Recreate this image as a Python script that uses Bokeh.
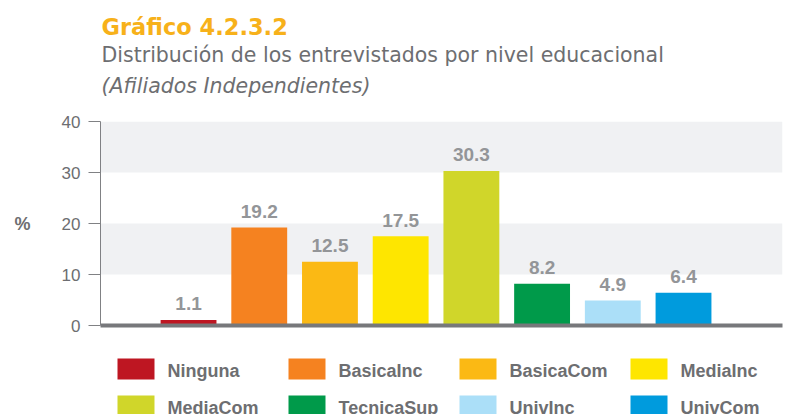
from bokeh.plotting import figure
from bokeh.layouts import column
from bokeh.models import ColumnDataSource, Range1d, FixedTicker, Label
from bokeh.core.properties import value
from bokeh.embed import file_html
from bokeh.resources import INLINE

categories = ["Ninguna", "BasicaInc", "BasicaCom", "MediaInc", "MediaCom", "TecnicaSup", "UnivInc", "UnivCom"]
values = [1.1, 19.2, 12.5, 17.5, 30.3, 8.2, 4.9, 6.4]
value_labels = ["1.1", "19.2", "12.5", "17.5", "30.3", "8.2", "4.9", "6.4"]
colors = ["#be1622", "#f58220", "#fbb914", "#fee600", "#d0d62a", "#009a4a", "#abdff8", "#009bdd"]
y_ticks = [0, 10, 20, 30, 40]
title = "Gráfico 4.2.3.2"
subtitle = "Distribución de los entrevistados por nivel educacional"
subtitle2 = "(Afiliados Independientes)"

GRAY_TXT = "#6d6e71"
VAL_TXT = "#939598"
AXIS_C = "#808184"

src = ColumnDataSource(dict(x=list(range(len(categories))), v=values, cat=categories,
                            color=colors, lab=value_labels))

# ---------------- title strip ----------------
p0 = figure(width=790, height=105, output_backend="svg", toolbar_location=None,
            x_range=Range1d(0, 682), y_range=Range1d(105, 0),
            min_border_left=100, min_border_right=8, min_border_top=0, min_border_bottom=0)
p0.axis.visible = False
p0.grid.visible = False
p0.outline_line_color = None
p0.add_layout(Label(x=1, y=26, text=title, text_font="DejaVu Sans", text_font_style="bold",
                    text_font_size="22.5px", text_color="#f7b11a", text_baseline="alphabetic"))
p0.add_layout(Label(x=1, y=54, text=subtitle, text_font="DejaVu Sans",
                    text_font_size="20.5px", text_color=GRAY_TXT, text_baseline="alphabetic"))
p0.add_layout(Label(x=1, y=85, text=subtitle2, text_font="DejaVu Sans", text_font_style="italic",
                    text_font_size="20.5px", text_color=GRAY_TXT, text_baseline="alphabetic"))

# ---------------- main chart ----------------
p = figure(frame_width=682, frame_height=204, output_backend="svg", toolbar_location=None,
           x_range=Range1d(-1.245, 8.40), y_range=Range1d(0, 40),
           min_border_left=100, min_border_right=8, min_border_top=16, min_border_bottom=12)
p.outline_line_color = None
p.background_fill_color = "white"

xa = p.xaxis[0]
xa.ticker = FixedTicker(ticks=[])
xa.axis_line_color = "#77787b"
xa.axis_line_width = 4
xa.major_tick_line_color = None
xa.minor_tick_line_color = None
xa.major_tick_out = 0
xa.major_tick_in = 0
xa.minor_tick_out = 0
p.xgrid.visible = False
p.ygrid.grid_line_color = None
p.ygrid.band_fill_color = "#f0f1f3"
p.ygrid.band_fill_alpha = 1.0
p.ygrid.ticker = FixedTicker(ticks=y_ticks)

ya = p.yaxis[0]
ya.ticker = FixedTicker(ticks=y_ticks)
ya.axis_line_color = AXIS_C
ya.major_tick_line_color = AXIS_C
ya.major_tick_out = 12
ya.major_tick_in = 0
ya.minor_tick_line_color = None
ya.major_label_standoff = 8
ya.major_label_text_font = "Liberation Sans"
ya.major_label_text_font_size = "17px"
ya.major_label_text_color = GRAY_TXT
ya.axis_label = "%"
ya.axis_label_orientation = "horizontal"
ya.axis_label_standoff = 28
ya.axis_label_text_font = "Liberation Sans"
ya.axis_label_text_font_style = "bold"
ya.axis_label_text_font_size = "18px"
ya.axis_label_text_color = GRAY_TXT

p.vbar(x="x", top="v", width=0.79, color="color", line_color=None, source=src)

p.text(x="x", y="v", text="lab", source=src, text_align="center", text_baseline="alphabetic",
       y_offset=-16, text_font=value("Liberation Sans"), text_font_style="bold",
       text_font_size="19px", text_color=VAL_TXT)

# ---------------- legend strip (drawn through its own scales) ----------------
leg_col = [i % 4 for i in range(len(categories))]
leg_row = [i // 4 for i in range(len(categories))]
lsrc = ColumnDataSource(dict(c=leg_col, r=leg_row, cat=categories, color=colors))

p2 = figure(width=790, height=77, output_backend="svg", toolbar_location=None,
            x_range=Range1d(-0.2076, 3.7807), y_range=Range1d(1.2297, -0.8514),
            min_border_left=100, min_border_right=8, min_border_top=0, min_border_bottom=0)
p2.axis.visible = False
p2.grid.visible = False
p2.outline_line_color = None
p2.rect(x="c", y="r", width=37, height=21, width_units="screen", height_units="screen",
        color="color", line_color=None, source=lsrc)
p2.text(x="c", y="r", text="cat", source=lsrc, x_offset=31.5, y_offset=2,
        text_align="left", text_baseline="middle", text_font=value("Liberation Sans"),
        text_font_style="bold", text_font_size="18px", text_color=GRAY_TXT)

layout = column(p0, p, p2, spacing=0)
open("out.html", "w").write(file_html(layout, INLINE))
